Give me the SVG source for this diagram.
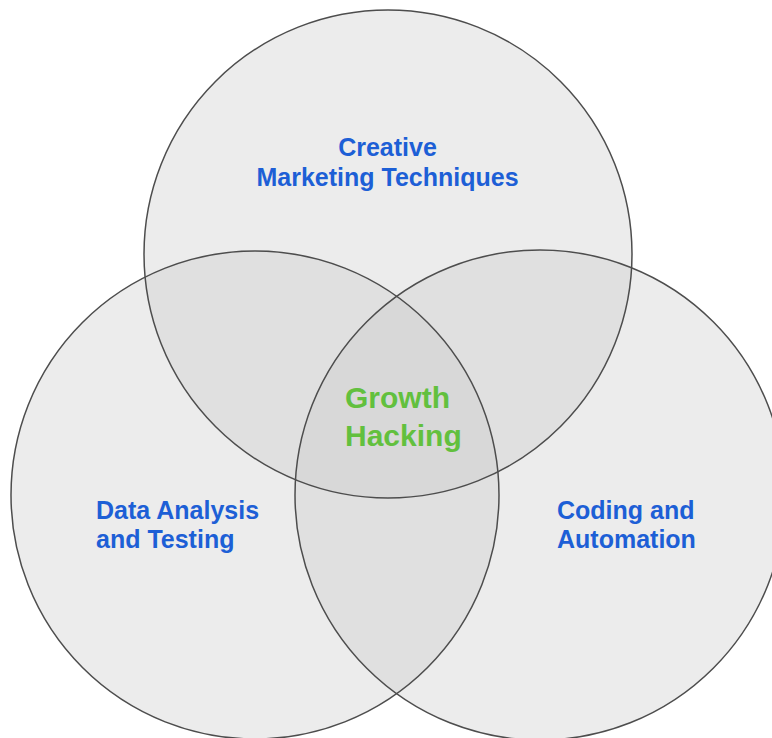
<svg xmlns="http://www.w3.org/2000/svg" width="772" height="738" viewBox="0 0 772 738">
<style>
.c{fill:#cccccc;fill-opacity:0.37;stroke:none}
.o{fill:none;stroke:#4d4d4d;stroke-width:1.5}
.t{font-family:"Liberation Sans",Arial,sans-serif;font-weight:bold;font-size:25px;fill:#1d5fd6}
.g{font-family:"Liberation Sans",Arial,sans-serif;font-weight:bold;font-size:30px;fill:#62c03e}
</style>
<rect width="772" height="738" fill="#ffffff"/>
<g id="creative">
<circle id="c1" class="c" cx="388" cy="254" r="244"/>
<text class="t" x="387.5" y="156" text-anchor="middle">Creative</text>
<text class="t" x="387.5" y="186" text-anchor="middle">Marketing Techniques</text>
</g>
<g id="data">
<circle id="c2" class="c" cx="255" cy="495" r="244"/>
<text class="t" x="96" y="519">Data Analysis</text>
<text class="t" x="96" y="548">and Testing</text>
</g>
<g id="coding">
<circle id="c3" class="c" cx="540" cy="495" r="245"/>
<text class="t" x="557" y="519">Coding and</text>
<text class="t" x="557" y="548">Automation</text>
</g>
<g id="outlines">
<circle class="o" cx="388" cy="254" r="244"/>
<circle class="o" cx="255" cy="495" r="244"/>
<circle class="o" cx="540" cy="495" r="245"/>
</g>
<g id="growth">
<text class="g" x="345" y="408">Growth</text>
<text class="g" x="345" y="446">Hacking</text>
</g>
<g id="connectors"></g>
</svg>
